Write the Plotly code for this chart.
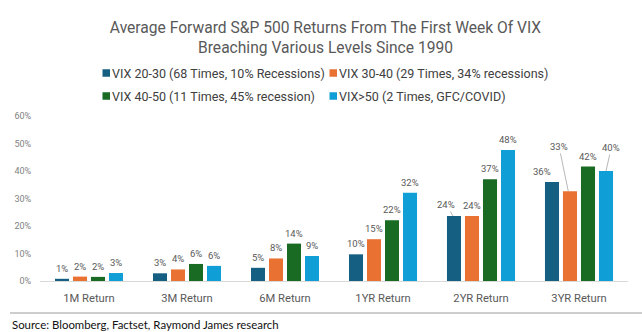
import plotly.graph_objects as go

categories = ["1M Return", "3M Return", "6M Return", "1YR Return", "2YR Return", "3YR Return"]
series_names = [
    "VIX 20-30 (68 Times, 10% Recessions)",
    "VIX 30-40 (29 Times, 34% recessions)",
    "VIX 40-50 (11 Times, 45% recession)",
    "VIX>50 (2 Times, GFC/COVID)",
]
vix_20_30 = [0.8, 2.8, 4.8, 9.7, 23.6, 36.0]
vix_30_40 = [1.6, 4.2, 8.2, 15.2, 23.6, 32.6]
vix_40_50 = [1.5, 6.2, 13.6, 22.1, 37.0, 41.6]
vix_50_up = [2.9, 5.5, 9.1, 32.1, 47.6, 40.0]
colors = ["#156082", "#E97132", "#196B24", "#0F9ED5"]
y_ticks = [0, 10, 20, 30, 40, 50, 60]

series = [vix_20_30, vix_30_40, vix_40_50, vix_50_up]

W, H = 642, 332
ML, MR, MT, MB = 40, 14, 116, 51
FONT = "Roboto, sans-serif"
GREY = "#595959"
BARGAP = 0.265
GROUPGAP = 0.22

plot_h = H - MT - MB
plot_w = W - ML - MR

def px_x(px):  # page pixel -> paper x
    return (px - ML) / plot_w

def px_y(py):  # page pixel -> paper y
    return (H - MB - py) / plot_h

xs = list(range(len(categories)))
fig = go.Figure()
for name, vals, col in zip(series_names, series, colors):
    fig.add_trace(go.Bar(
        x=xs, y=vals, name=name, marker=dict(color=col, line=dict(width=0)),
        hoverinfo="skip", showlegend=False,
    ))

# bar centre offsets derived from layout gap settings
n = len(series)
slot = (1 - BARGAP) / n
def bar_x(i, j):
    return i - (1 - BARGAP) / 2 + slot * (j + 0.5)

px_per_cat = plot_w / len(categories)
special = {
    (4, 0): dict(arrow=True, dx_pt=-1, ax=-6.5, ay=-11.5),
    (5, 0): dict(arrow=False, xshift=-10),
    (5, 1): dict(arrow=True, dx_pt=-1.7, ax=-9.3, ay=-45),
    (5, 3): dict(arrow=True, dx_pt=0, ax=5.3, ay=-23.5),
}
annotations = []
for j, vals in enumerate(series):
    for i, v in enumerate(vals):
        txt = f"{round(v):d}%"
        sp = special.get((i, j))
        base = dict(text=txt, font=dict(family=FONT, size=9.5, color=GREY),
                    xref="x", yref="y")
        if sp and sp.get("arrow"):
            annotations.append(dict(base, x=bar_x(i, j) + sp["dx_pt"] / px_per_cat, y=v,
                                    showarrow=True, arrowhead=0, arrowwidth=0.8,
                                    arrowcolor="#a6a6a6", ax=sp["ax"], ay=sp["ay"],
                                    standoff=0, startstandoff=0))
        else:
            annotations.append(dict(base, x=bar_x(i, j), y=v, showarrow=False,
                                    yanchor="bottom", yshift=3,
                                    xshift=sp["xshift"] if sp else 0))

# source note and separator
annotations.append(dict(
    text="Source: Bloomberg, Factset, Raymond James research",
    xref="paper", yref="paper", x=px_x(10), y=px_y(324.5),
    xanchor="left", yanchor="middle", showarrow=False,
    font=dict(family="Lato, sans-serif", size=11.4, color="#111111"),
))
shapes = [dict(type="line", xref="paper", yref="paper",
               x0=px_x(10), x1=px_x(W), y0=px_y(313), y1=px_y(313),
               line=dict(color="#9a9a9a", width=1))]

# legend (square swatch + label), two rows of two
legend_pos = [(102.5, 73), (329.5, 73), (102.5, 96), (329.5, 96)]
SW = 7.5
for name, col, (lx, ly) in zip(series_names, colors, legend_pos):
    shapes.append(dict(type="rect", xref="paper", yref="paper",
                       x0=px_x(lx), x1=px_x(lx + SW),
                       y0=px_y(ly + SW / 2), y1=px_y(ly - SW / 2),
                       fillcolor=col, line=dict(width=0)))
    annotations.append(dict(text=name, xref="paper", yref="paper",
                            x=px_x(lx + SW), y=px_y(ly), xanchor="left", yanchor="middle",
                            showarrow=False,
                            font=dict(family=FONT, size=12.5, color="#404040")))

fig.update_layout(
    width=W, height=H,
    margin=dict(l=ML, r=MR, t=MT, b=MB),
    paper_bgcolor="white", plot_bgcolor="white",
    barmode="group", bargap=BARGAP, bargroupgap=GROUPGAP,
    title=dict(
        text="Average Forward S&P 500 Returns From The First Week Of VIX<br>Breaching Various Levels Since 1990",
        x=325.5 / W, xanchor="center", y=1 - 32.5 / H, yanchor="middle",
        font=dict(family=FONT, size=15.6, color=GREY),
    ),
    xaxis=dict(
        tickmode="array", tickvals=xs, ticktext=categories,
        range=[-0.5, len(categories) - 0.5],
        showline=True, linecolor="#d9d9d9", linewidth=1,
        ticks="outside", ticklen=7, tickcolor="rgba(0,0,0,0)",
        tickfont=dict(family=FONT, size=11.2, color=GREY),
        showgrid=False, zeroline=False,
    ),
    yaxis=dict(
        range=[0, 60], tickvals=y_ticks, ticktext=[f"{t}%" for t in y_ticks],
        ticks="outside", ticklen=6, tickcolor="rgba(0,0,0,0)",
        tickfont=dict(family=FONT, size=9, color="#7f7f7f"),
        showgrid=False, zeroline=False, showline=False,
    ),
    annotations=annotations,
    shapes=shapes,
    showlegend=False,
)

fig.write_html("out.html")
